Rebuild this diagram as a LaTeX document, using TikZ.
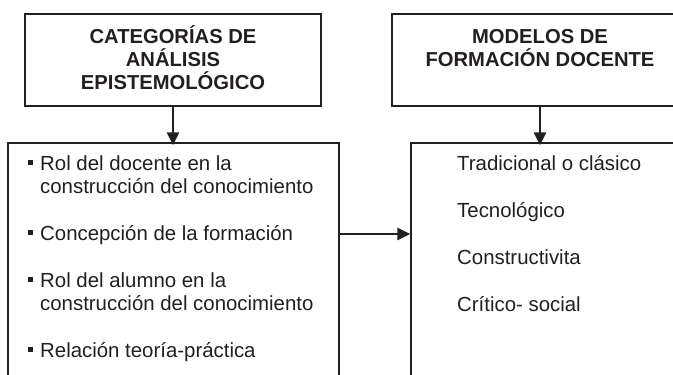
\documentclass[tikz,border=0pt]{standalone}
\usepackage{fontspec}
\setmainfont{Liberation Sans}
\usetikzlibrary{arrows.meta}
\definecolor{ink}{HTML}{231F20}
\begin{document}
\begin{tikzpicture}[x=1pt,y=-1pt,
  box/.style={draw=ink, line width=1.5pt, rectangle, inner sep=0pt},
  head/.style={anchor=base, inner sep=0pt, font=\fontsize{20.2}{24}\selectfont\bfseries, text=ink},
  body/.style={anchor=base west, inner sep=0pt, font=\fontsize{20.4}{24}\selectfont, text=ink},
  bul/.style={fill=ink, minimum size=5pt, inner sep=0pt, rectangle},
  arr/.style={draw=ink, line width=2.8pt, -{Triangle[length=13pt,width=12pt]}}]
\clip (0,0) rectangle (673,375);
\fill[white] (0,0) rectangle (673,375);
% boxes
\node[box, minimum width=296pt, minimum height=92pt] (b1) at (173,60) {};
\node[box, minimum width=296pt, minimum height=92pt] (b2) at (540,60) {};
\node[box, minimum width=331pt, minimum height=252pt] (b3) at (173.5,269) {};
\node[box, minimum width=329pt, minimum height=252pt] (b4) at (575.5,269) {};
% headings
\node[head] (h1a) at (173,43) {CATEGORÍAS DE};
\node[head] (h1b) at (173,66) {ANÁLISIS};
\node[head] (h1c) at (173,89) {EPISTEMOLÓGICO};
\node[head] (h2a) at (540,43) {MODELOS DE};
\node[head] (h2b) at (540,66) {FORMACIÓN DOCENTE};
% left list
\node[bul] (s1) at (30.5,162.5) {};
\node[body] (t1a) at (40,170) {Rol del docente en la};
\node[body] (t1b) at (40,193) {construcción del conocimiento};
\node[bul] (s2) at (30.5,232.5) {};
\node[body] (t2) at (40,240) {Concepción de la formación};
\node[bul] (s3) at (30.5,279.5) {};
\node[body] (t3a) at (40,287) {Rol del alumno en la};
\node[body] (t3b) at (40,310) {construcción del conocimiento};
\node[bul] (s4) at (30.5,349.5) {};
\node[body] (t4) at (40,357) {Relación teoría-práctica};
% right list
\node[body] (r1) at (457,170) {Tradicional o clásico};
\node[body] (r2) at (457,217) {Tecnológico};
\node[body] (r3) at (457,264) {Constructivita};
\node[body] (r4) at (457,311) {Crítico- social};
% connectors
\draw[arr, shorten >=-3pt] (b1.south) -- (b1.south |- b3.north);
\draw[arr, shorten >=-3pt] (b2.south) -- (b2.south |- b4.north);
\coordinate (hy) at (0,234);
\draw[arr] (b3.east |- hy) -- (b4.west |- hy);
\end{tikzpicture}
\end{document}
